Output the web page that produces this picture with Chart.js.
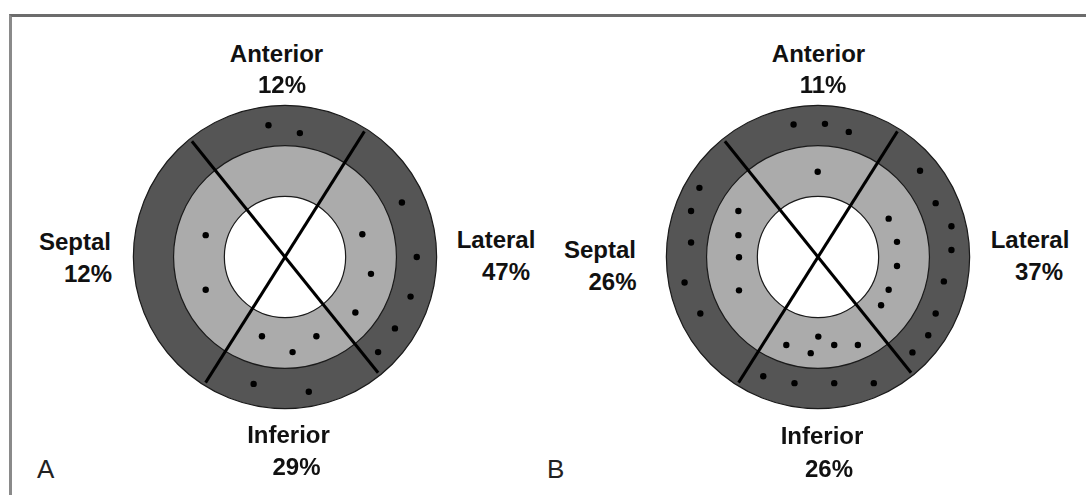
<!DOCTYPE html>
<html>
<head>
<meta charset="utf-8">
<script src="https://cdn.jsdelivr.net/npm/chart.js@4/dist/chart.umd.min.js"></script>
<style>
  html, body { margin: 0; padding: 0; background: #fff; }
  body { width: 1086px; height: 495px; position: relative; overflow: hidden; font-family: "Liberation Sans", Arial, sans-serif; }
  #frame { position: absolute; left: 9px; top: 14px; width: 1100px; height: 500px;
           border-top: 3px solid #6c6c6c; border-left: 3px solid #8a8a8a; box-sizing: border-box; }
  canvas.panel { position: absolute; }
  .lbl { position: absolute; font-weight: bold; font-size: 24px; line-height: 31px; color: #111;
         white-space: nowrap; transform: translateX(-50%); z-index: 5; }
  .letter { position: absolute; font-size: 26px; line-height: 31px; color: #222; z-index: 5; }
</style>
</head>
<body>
<div id="frame"></div>
<canvas id="chartA" class="panel" width="340" height="340" style="left:115px;top:87px;"></canvas>
<canvas id="chartB" class="panel" width="340" height="340" style="left:648px;top:87px;"></canvas>
<script>
// ---- data ----
const regions = ['Anterior', 'Lateral', 'Inferior', 'Septal'];
const panelNames = ['A', 'B'];
const percentsA = [12, 47, 29, 12];
const percentsB = [11, 37, 26, 26];

// ring radii (outer edge of each ring, % of full radius) and fills
const ringRadii = [100, 73.5, 40];
const ringColors = ['#555555', '#ababab', '#ffffff'];

// two dividing lines (angle in degrees, half length in % of radius)
const dividerAngles = [128.8, 57.7];
const dividerHalfLength = 98;

// dot positions (x, y in % of radius, origin at centre, y up)
const dotsAX = [-10.9, 9.8, 77.1, 86.9, 82.8, 72.5, 61.4, -20.7, 15.7,
                -52.3, -52.3, 51.0, 56.7, 46.4, -15.2, 20.7, 5.0];
const dotsAY = [86.9, 81.7, 35.9, 0.0, -26.1, -47.1, -62.7, -83.7, -88.9,
                14.4, -21.6, 15.0, -11.1, -36.6, -52.3, -52.3, -62.7];

const dotsBX = [-16.1, 4.6, 20.3, 67.3, 77.6, 88.0, 88.0, 83.0, 77.6, 72.7, 62.3,
                36.8, 10.7, -15.5, -36.1, -77.6, -88.0, -83.7, -83.7, -78.2,
                -0.2, 46.6, 52.1, 52.1, 46.6, 41.6, 26.3, 10.7, 0.2, -4.8, -20.9,
                -52.1, -52.1, -52.5, -52.5];
const dotsBY = [87.4, 87.8, 82.5, 56.9, 35.5, 20.3, 4.6, -16.1, -37.3, -51.6, -62.9,
                -83.2, -83.2, -83.2, -78.6, -37.3, -16.8, 9.6, 30.3, 45.6,
                56.2, 25.3, 10.0, -5.9, -21.6, -31.8, -58.0, -58.0, -52.5, -63.4, -58.0,
                -22.0, -0.2, 14.4, 30.3];

// ---- rings plugin ----
const ringsPlugin = {
  id: 'rings',
  beforeDatasetsDraw(chart) {
    const ctx = chart.ctx, xs = chart.scales.x, ys = chart.scales.y;
    const cx = xs.getPixelForValue(0), cy = ys.getPixelForValue(0);
    ctx.save();
    ringRadii.forEach((r, i) => {
      const rp = Math.abs(xs.getPixelForValue(r) - cx);
      ctx.beginPath();
      ctx.arc(cx, cy, rp, 0, Math.PI * 2);
      ctx.fillStyle = ringColors[i];
      ctx.fill();
      ctx.lineWidth = 1.2;
      ctx.strokeStyle = '#1a1a1a';
      ctx.stroke();
    });
    ctx.restore();
  }
};

function makePanel(id, xsArr, ysArr) {
  const dots = xsArr.map((x, i) => ({ x: x, y: ysArr[i] }));
  const lineSets = dividerAngles.map(a => {
    const t = a * Math.PI / 180;
    const dx = dividerHalfLength * Math.cos(t), dy = dividerHalfLength * Math.sin(t);
    return {
      type: 'scatter',
      data: [{ x: -dx, y: -dy }, { x: dx, y: dy }],
      showLine: true, borderColor: '#000', borderWidth: 3,
      pointRadius: 0, pointHoverRadius: 0, fill: false
    };
  });
  new Chart(document.getElementById(id), {
    type: 'scatter',
    data: {
      datasets: [
        ...lineSets,
        { data: dots, pointRadius: 3.2, pointHoverRadius: 3.2, pointBackgroundColor: '#000',
          pointBorderWidth: 0, borderColor: '#000', showLine: false }
      ]
    },
    options: {
      responsive: false, animation: false, events: [],
      layout: { padding: 0 },
      plugins: { legend: { display: false }, tooltip: { enabled: false } },
      scales: {
        x: { type: 'linear', min: -110, max: 110, display: false },
        y: { type: 'linear', min: -110, max: 110, display: false }
      }
    },
    plugins: [ringsPlugin]
  });
}
makePanel('chartA', dotsAX, dotsAY);
makePanel('chartB', dotsBX, dotsBY);

// ---- labels ----
const labelSpots = {
  A: [ // [name centre x, name baseline, pct centre x, pct baseline]
    [276.5, 62, 282, 93],    // Anterior
    [496, 248, 506, 280],    // Lateral
    [288.5, 443, 296.5, 475],// Inferior
    [75, 250, 88, 282]       // Septal
  ],
  B: [
    [818.5, 62, 823, 93],
    [1030, 248, 1039, 280],
    [822, 444, 829, 477],
    [600, 258, 612.5, 290]
  ]
};
const letterSpots = { A: [37, 478], B: [547, 478] };
const baseOff = 23.8;
function addDiv(cls, text, left, top) {
  const d = document.createElement('div');
  d.className = cls; d.textContent = text;
  d.style.left = left + 'px'; d.style.top = top + 'px';
  document.body.appendChild(d);
}
panelNames.forEach(p => {
  const pcts = p === 'A' ? percentsA : percentsB;
  regions.forEach((r, i) => {
    const s = labelSpots[p][i];
    addDiv('lbl', r, s[0], s[1] - baseOff);
    addDiv('lbl', pcts[i] + '%', s[2], s[3] - baseOff);
  });
  addDiv('letter', p, letterSpots[p][0], letterSpots[p][1] - 24.5);
});
</script>
</body>
</html>
